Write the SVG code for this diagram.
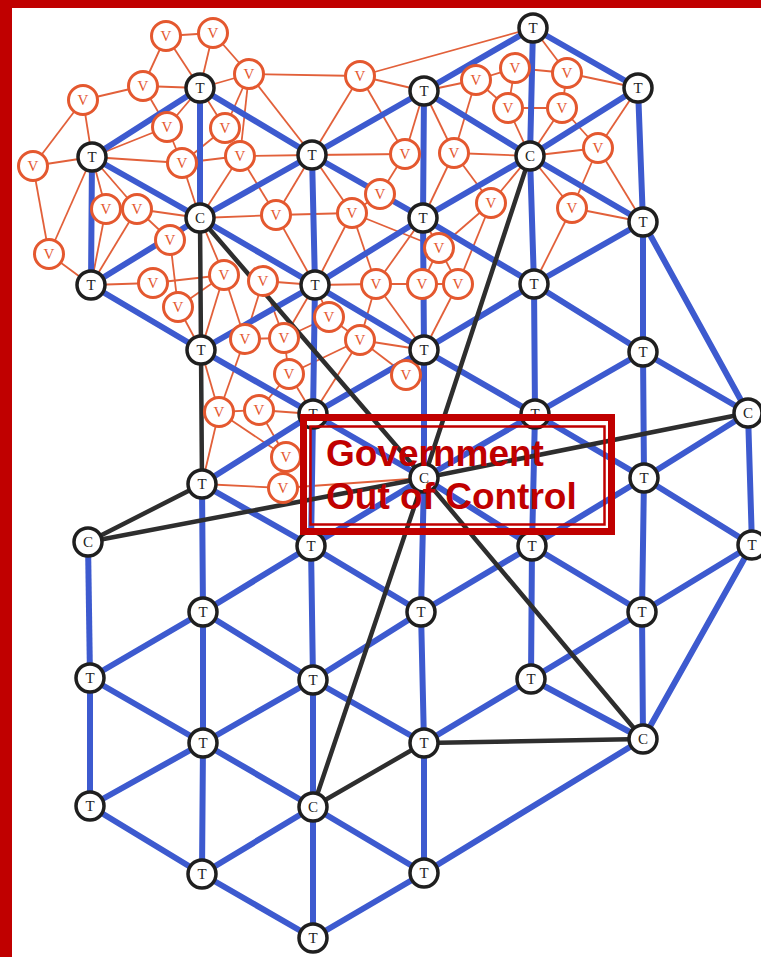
<svg xmlns="http://www.w3.org/2000/svg" width="761" height="957" viewBox="0 0 761 957">
<style>
.o line{stroke:#e2603a;stroke-width:1.8}
.b line{stroke:#3d5acf;stroke-width:6;stroke-linecap:round}
.k line{stroke:#2e2e2e;stroke-width:4.5;stroke-linecap:round}
.t circle{fill:#fff;stroke:#1f1f1f;stroke-width:3.5}
.t text{font-family:"Liberation Serif",serif;font-size:15px;fill:#222;text-anchor:middle}
.v circle{fill:#fff;stroke:#e4582f;stroke-width:3}
.v text{font-family:"Liberation Serif",serif;font-size:15px;fill:#e4582f;text-anchor:middle}
.lbl{font-family:"Liberation Sans",Arial,sans-serif;font-weight:bold;font-size:37px;fill:#c00000}
</style>
<rect x="0" y="0" width="761" height="957" fill="#fff"/>
<g id="connectors">
<g class="o">
<line x1="166" y1="36" x2="213" y2="33"/><line x1="166" y1="36" x2="143" y2="86"/><line x1="166" y1="36" x2="200" y2="88"/><line x1="213" y1="33" x2="200" y2="88"/><line x1="213" y1="33" x2="249" y2="74"/>
<line x1="143" y1="86" x2="83" y2="100"/><line x1="143" y1="86" x2="200" y2="88"/><line x1="143" y1="86" x2="167" y2="127"/><line x1="83" y1="100" x2="92" y2="157"/><line x1="83" y1="100" x2="33" y2="166"/>
<line x1="33" y1="166" x2="92" y2="157"/><line x1="200" y1="88" x2="249" y2="74"/><line x1="200" y1="88" x2="167" y2="127"/><line x1="200" y1="88" x2="225" y2="128"/><line x1="249" y1="74" x2="225" y2="128"/>
<line x1="249" y1="74" x2="240" y2="156"/><line x1="249" y1="74" x2="312" y2="155"/><line x1="92" y1="157" x2="167" y2="127"/><line x1="92" y1="157" x2="182" y2="163"/><line x1="167" y1="127" x2="182" y2="163"/>
<line x1="225" y1="128" x2="182" y2="163"/><line x1="182" y1="163" x2="240" y2="156"/><line x1="182" y1="163" x2="200" y2="218"/><line x1="240" y1="156" x2="200" y2="218"/><line x1="240" y1="156" x2="312" y2="155"/>
<line x1="240" y1="156" x2="276" y2="215"/><line x1="249" y1="74" x2="360" y2="76"/><line x1="360" y1="76" x2="533" y2="28"/><line x1="360" y1="76" x2="424" y2="91"/><line x1="360" y1="76" x2="312" y2="155"/>
<line x1="360" y1="76" x2="405" y2="154"/><line x1="312" y1="155" x2="405" y2="154"/><line x1="312" y1="155" x2="380" y2="194"/><line x1="312" y1="155" x2="276" y2="215"/><line x1="312" y1="155" x2="352" y2="213"/>
<line x1="424" y1="91" x2="476" y2="80"/><line x1="424" y1="91" x2="405" y2="154"/><line x1="424" y1="91" x2="454" y2="153"/><line x1="476" y1="80" x2="454" y2="153"/><line x1="405" y1="154" x2="380" y2="194"/>
<line x1="454" y1="153" x2="530" y2="156"/><line x1="454" y1="153" x2="423" y2="218"/><line x1="454" y1="153" x2="491" y2="203"/><line x1="533" y1="28" x2="567" y2="73"/><line x1="515" y1="68" x2="567" y2="73"/>
<line x1="476" y1="80" x2="515" y2="68"/><line x1="515" y1="68" x2="508" y2="108"/><line x1="567" y1="73" x2="638" y2="88"/><line x1="567" y1="73" x2="562" y2="108"/><line x1="508" y1="108" x2="562" y2="108"/>
<line x1="476" y1="80" x2="508" y2="108"/><line x1="508" y1="108" x2="530" y2="156"/><line x1="562" y1="108" x2="530" y2="156"/><line x1="562" y1="108" x2="598" y2="148"/><line x1="638" y1="88" x2="598" y2="148"/>
<line x1="530" y1="156" x2="598" y2="148"/><line x1="530" y1="156" x2="491" y2="203"/><line x1="530" y1="156" x2="572" y2="208"/><line x1="598" y1="148" x2="572" y2="208"/><line x1="598" y1="148" x2="643" y2="222"/>
<line x1="572" y1="208" x2="643" y2="222"/><line x1="572" y1="208" x2="534" y2="284"/><line x1="491" y1="203" x2="458" y2="284"/><line x1="491" y1="203" x2="439" y2="248"/><line x1="49" y1="254" x2="91" y2="285"/>
<line x1="49" y1="254" x2="33" y2="166"/><line x1="49" y1="254" x2="92" y2="157"/><line x1="106" y1="209" x2="91" y2="285"/><line x1="137" y1="209" x2="91" y2="285"/><line x1="106" y1="209" x2="92" y2="157"/>
<line x1="137" y1="209" x2="92" y2="157"/><line x1="137" y1="209" x2="200" y2="218"/><line x1="170" y1="240" x2="200" y2="218"/><line x1="170" y1="240" x2="178" y2="307"/><line x1="137" y1="209" x2="170" y2="240"/>
<line x1="91" y1="285" x2="153" y2="283"/><line x1="153" y1="283" x2="224" y2="275"/><line x1="178" y1="307" x2="224" y2="275"/><line x1="224" y1="275" x2="200" y2="218"/><line x1="224" y1="275" x2="201" y2="350"/>
<line x1="224" y1="275" x2="245" y2="339"/><line x1="178" y1="307" x2="201" y2="350"/><line x1="200" y1="218" x2="276" y2="215"/><line x1="276" y1="215" x2="352" y2="213"/><line x1="276" y1="215" x2="315" y2="285"/>
<line x1="352" y1="213" x2="380" y2="194"/><line x1="352" y1="213" x2="315" y2="285"/><line x1="352" y1="213" x2="376" y2="284"/><line x1="352" y1="213" x2="439" y2="248"/><line x1="423" y1="218" x2="439" y2="248"/>
<line x1="423" y1="218" x2="376" y2="284"/><line x1="315" y1="285" x2="376" y2="284"/><line x1="315" y1="285" x2="263" y2="281"/><line x1="376" y1="284" x2="422" y2="284"/><line x1="422" y1="284" x2="458" y2="284"/>
<line x1="439" y1="248" x2="422" y2="284"/><line x1="439" y1="248" x2="458" y2="284"/><line x1="376" y1="284" x2="360" y2="340"/><line x1="376" y1="284" x2="424" y2="350"/><line x1="458" y1="284" x2="424" y2="350"/>
<line x1="315" y1="285" x2="329" y2="317"/><line x1="329" y1="317" x2="360" y2="340"/><line x1="360" y1="340" x2="424" y2="350"/><line x1="360" y1="340" x2="289" y2="374"/><line x1="263" y1="281" x2="245" y2="339"/>
<line x1="284" y1="338" x2="263" y2="281"/><line x1="284" y1="338" x2="289" y2="374"/><line x1="245" y1="339" x2="284" y2="338"/><line x1="329" y1="317" x2="284" y2="338"/><line x1="315" y1="285" x2="284" y2="338"/>
<line x1="406" y1="375" x2="424" y2="350"/><line x1="406" y1="375" x2="360" y2="340"/><line x1="219" y1="412" x2="259" y2="410"/><line x1="219" y1="412" x2="201" y2="350"/><line x1="219" y1="412" x2="245" y2="339"/>
<line x1="219" y1="412" x2="202" y2="484"/><line x1="219" y1="412" x2="286" y2="457"/><line x1="202" y1="484" x2="283" y2="488"/><line x1="289" y1="374" x2="313" y2="414"/><line x1="289" y1="374" x2="259" y2="410"/>
<line x1="259" y1="410" x2="313" y2="414"/><line x1="259" y1="410" x2="286" y2="457"/><line x1="286" y1="457" x2="283" y2="488"/><line x1="283" y1="488" x2="424" y2="478"/><line x1="313" y1="414" x2="360" y2="340"/>
</g>
<g class="b">
<line x1="92" y1="157" x2="91" y2="285"/><line x1="200" y1="88" x2="200" y2="218"/><line x1="312" y1="155" x2="315" y2="285"/><line x1="315" y1="285" x2="313" y2="414"/><line x1="313" y1="414" x2="311" y2="546"/>
<line x1="311" y1="546" x2="313" y2="680"/><line x1="313" y1="680" x2="313" y2="807"/><line x1="313" y1="807" x2="313" y2="938"/><line x1="202" y1="484" x2="203" y2="612"/><line x1="203" y1="612" x2="203" y2="743"/>
<line x1="203" y1="743" x2="202" y2="874"/><line x1="424" y1="91" x2="423" y2="218"/><line x1="423" y1="218" x2="424" y2="350"/><line x1="424" y1="350" x2="424" y2="478"/><line x1="424" y1="478" x2="421" y2="612"/>
<line x1="421" y1="612" x2="424" y2="743"/><line x1="424" y1="743" x2="424" y2="873"/><line x1="533" y1="28" x2="530" y2="156"/><line x1="530" y1="156" x2="534" y2="284"/><line x1="534" y1="284" x2="535" y2="414"/>
<line x1="535" y1="414" x2="532" y2="546"/><line x1="532" y1="546" x2="531" y2="679"/><line x1="638" y1="88" x2="643" y2="222"/><line x1="643" y1="222" x2="643" y2="352"/><line x1="643" y1="352" x2="644" y2="478"/>
<line x1="644" y1="478" x2="642" y2="612"/><line x1="642" y1="612" x2="643" y2="739"/><line x1="748" y1="413" x2="752" y2="545"/><line x1="88" y1="542" x2="90" y2="678"/><line x1="90" y1="678" x2="90" y2="806"/>
<line x1="92" y1="157" x2="200" y2="88"/><line x1="92" y1="157" x2="200" y2="218"/><line x1="91" y1="285" x2="200" y2="218"/><line x1="91" y1="285" x2="201" y2="350"/><line x1="90" y1="678" x2="203" y2="612"/>
<line x1="90" y1="678" x2="203" y2="743"/><line x1="90" y1="806" x2="203" y2="743"/><line x1="90" y1="806" x2="202" y2="874"/><line x1="200" y1="88" x2="312" y2="155"/><line x1="200" y1="218" x2="312" y2="155"/>
<line x1="200" y1="218" x2="315" y2="285"/><line x1="201" y1="350" x2="315" y2="285"/><line x1="201" y1="350" x2="313" y2="414"/><line x1="202" y1="484" x2="313" y2="414"/><line x1="202" y1="484" x2="311" y2="546"/>
<line x1="203" y1="612" x2="311" y2="546"/><line x1="203" y1="612" x2="313" y2="680"/><line x1="203" y1="743" x2="313" y2="680"/><line x1="203" y1="743" x2="313" y2="807"/><line x1="202" y1="874" x2="313" y2="807"/>
<line x1="202" y1="874" x2="313" y2="938"/><line x1="312" y1="155" x2="424" y2="91"/><line x1="312" y1="155" x2="423" y2="218"/><line x1="315" y1="285" x2="423" y2="218"/><line x1="315" y1="285" x2="424" y2="350"/>
<line x1="313" y1="414" x2="424" y2="350"/><line x1="313" y1="414" x2="424" y2="478"/><line x1="311" y1="546" x2="424" y2="478"/><line x1="311" y1="546" x2="421" y2="612"/><line x1="313" y1="680" x2="421" y2="612"/>
<line x1="313" y1="680" x2="424" y2="743"/><line x1="313" y1="807" x2="424" y2="873"/><line x1="313" y1="938" x2="424" y2="873"/><line x1="424" y1="91" x2="533" y2="28"/><line x1="424" y1="91" x2="530" y2="156"/>
<line x1="423" y1="218" x2="530" y2="156"/><line x1="423" y1="218" x2="534" y2="284"/><line x1="424" y1="350" x2="534" y2="284"/><line x1="424" y1="350" x2="535" y2="414"/><line x1="424" y1="478" x2="535" y2="414"/>
<line x1="424" y1="478" x2="532" y2="546"/><line x1="421" y1="612" x2="532" y2="546"/><line x1="424" y1="743" x2="531" y2="679"/><line x1="424" y1="873" x2="643" y2="739"/><line x1="533" y1="28" x2="638" y2="88"/>
<line x1="530" y1="156" x2="638" y2="88"/><line x1="530" y1="156" x2="643" y2="222"/><line x1="534" y1="284" x2="643" y2="222"/><line x1="534" y1="284" x2="643" y2="352"/><line x1="535" y1="414" x2="643" y2="352"/>
<line x1="535" y1="414" x2="644" y2="478"/><line x1="532" y1="546" x2="644" y2="478"/><line x1="532" y1="546" x2="642" y2="612"/><line x1="531" y1="679" x2="642" y2="612"/><line x1="531" y1="679" x2="643" y2="739"/>
<line x1="643" y1="222" x2="748" y2="413"/><line x1="643" y1="352" x2="748" y2="413"/><line x1="644" y1="478" x2="748" y2="413"/><line x1="644" y1="478" x2="752" y2="545"/><line x1="642" y1="612" x2="752" y2="545"/>
<line x1="643" y1="739" x2="752" y2="545"/>
</g>
<g class="k">
<line x1="200" y1="218" x2="201" y2="350"/><line x1="201" y1="350" x2="202" y2="484"/><line x1="202" y1="484" x2="88" y2="542"/><line x1="88" y1="542" x2="424" y2="478"/><line x1="424" y1="478" x2="748" y2="413"/>
<line x1="200" y1="218" x2="424" y2="478"/><line x1="424" y1="478" x2="643" y2="739"/><line x1="424" y1="478" x2="313" y2="807"/><line x1="424" y1="478" x2="530" y2="156"/><line x1="313" y1="807" x2="424" y2="743"/>
<line x1="424" y1="743" x2="643" y2="739"/>
</g>
</g>
<g id="nodes">
<g id="v1" class="v" transform="translate(166,36)"><circle r="14.5"/><text y="5">V</text></g>
<g id="v2" class="v" transform="translate(213,33)"><circle r="14.5"/><text y="5">V</text></g>
<g id="v3" class="v" transform="translate(143,86)"><circle r="14.5"/><text y="5">V</text></g>
<g id="v4" class="v" transform="translate(83,100)"><circle r="14.5"/><text y="5">V</text></g>
<g id="v5" class="v" transform="translate(249,74)"><circle r="14.5"/><text y="5">V</text></g>
<g id="v6" class="v" transform="translate(360,76)"><circle r="14.5"/><text y="5">V</text></g>
<g id="v7" class="v" transform="translate(476,80)"><circle r="14.5"/><text y="5">V</text></g>
<g id="v8" class="v" transform="translate(515,68)"><circle r="14.5"/><text y="5">V</text></g>
<g id="v9" class="v" transform="translate(567,73)"><circle r="14.5"/><text y="5">V</text></g>
<g id="v10" class="v" transform="translate(167,127)"><circle r="14.5"/><text y="5">V</text></g>
<g id="v11" class="v" transform="translate(225,128)"><circle r="14.5"/><text y="5">V</text></g>
<g id="v12" class="v" transform="translate(508,108)"><circle r="14.5"/><text y="5">V</text></g>
<g id="v13" class="v" transform="translate(562,108)"><circle r="14.5"/><text y="5">V</text></g>
<g id="v14" class="v" transform="translate(33,166)"><circle r="14.5"/><text y="5">V</text></g>
<g id="v15" class="v" transform="translate(182,163)"><circle r="14.5"/><text y="5">V</text></g>
<g id="v16" class="v" transform="translate(240,156)"><circle r="14.5"/><text y="5">V</text></g>
<g id="v17" class="v" transform="translate(405,154)"><circle r="14.5"/><text y="5">V</text></g>
<g id="v18" class="v" transform="translate(454,153)"><circle r="14.5"/><text y="5">V</text></g>
<g id="v19" class="v" transform="translate(598,148)"><circle r="14.5"/><text y="5">V</text></g>
<g id="v20" class="v" transform="translate(106,209)"><circle r="14.5"/><text y="5">V</text></g>
<g id="v21" class="v" transform="translate(137,209)"><circle r="14.5"/><text y="5">V</text></g>
<g id="v22" class="v" transform="translate(276,215)"><circle r="14.5"/><text y="5">V</text></g>
<g id="v23" class="v" transform="translate(352,213)"><circle r="14.5"/><text y="5">V</text></g>
<g id="v24" class="v" transform="translate(380,194)"><circle r="14.5"/><text y="5">V</text></g>
<g id="v25" class="v" transform="translate(491,203)"><circle r="14.5"/><text y="5">V</text></g>
<g id="v26" class="v" transform="translate(572,208)"><circle r="14.5"/><text y="5">V</text></g>
<g id="v27" class="v" transform="translate(170,240)"><circle r="14.5"/><text y="5">V</text></g>
<g id="v28" class="v" transform="translate(49,254)"><circle r="14.5"/><text y="5">V</text></g>
<g id="v29" class="v" transform="translate(153,283)"><circle r="14.5"/><text y="5">V</text></g>
<g id="v30" class="v" transform="translate(224,275)"><circle r="14.5"/><text y="5">V</text></g>
<g id="v31" class="v" transform="translate(263,281)"><circle r="14.5"/><text y="5">V</text></g>
<g id="v32" class="v" transform="translate(178,307)"><circle r="14.5"/><text y="5">V</text></g>
<g id="v33" class="v" transform="translate(439,248)"><circle r="14.5"/><text y="5">V</text></g>
<g id="v34" class="v" transform="translate(376,284)"><circle r="14.5"/><text y="5">V</text></g>
<g id="v35" class="v" transform="translate(422,284)"><circle r="14.5"/><text y="5">V</text></g>
<g id="v36" class="v" transform="translate(458,284)"><circle r="14.5"/><text y="5">V</text></g>
<g id="v37" class="v" transform="translate(329,317)"><circle r="14.5"/><text y="5">V</text></g>
<g id="v38" class="v" transform="translate(245,339)"><circle r="14.5"/><text y="5">V</text></g>
<g id="v39" class="v" transform="translate(284,338)"><circle r="14.5"/><text y="5">V</text></g>
<g id="v40" class="v" transform="translate(360,340)"><circle r="14.5"/><text y="5">V</text></g>
<g id="v41" class="v" transform="translate(406,375)"><circle r="14.5"/><text y="5">V</text></g>
<g id="v42" class="v" transform="translate(289,374)"><circle r="14.5"/><text y="5">V</text></g>
<g id="v43" class="v" transform="translate(219,412)"><circle r="14.5"/><text y="5">V</text></g>
<g id="v44" class="v" transform="translate(259,410)"><circle r="14.5"/><text y="5">V</text></g>
<g id="v45" class="v" transform="translate(286,457)"><circle r="14.5"/><text y="5">V</text></g>
<g id="v46" class="v" transform="translate(283,488)"><circle r="14.5"/><text y="5">V</text></g>
<g id="t1" class="t" transform="translate(533,28)"><circle r="14"/><text y="5">T</text></g>
<g id="t2" class="t" transform="translate(200,88)"><circle r="14"/><text y="5">T</text></g>
<g id="t3" class="t" transform="translate(424,91)"><circle r="14"/><text y="5">T</text></g>
<g id="t4" class="t" transform="translate(638,88)"><circle r="14"/><text y="5">T</text></g>
<g id="t5" class="t" transform="translate(92,157)"><circle r="14"/><text y="5">T</text></g>
<g id="t6" class="t" transform="translate(312,155)"><circle r="14"/><text y="5">T</text></g>
<g id="c7" class="t" transform="translate(530,156)"><circle r="14"/><text y="5">C</text></g>
<g id="c8" class="t" transform="translate(200,218)"><circle r="14"/><text y="5">C</text></g>
<g id="t9" class="t" transform="translate(423,218)"><circle r="14"/><text y="5">T</text></g>
<g id="t10" class="t" transform="translate(643,222)"><circle r="14"/><text y="5">T</text></g>
<g id="t11" class="t" transform="translate(91,285)"><circle r="14"/><text y="5">T</text></g>
<g id="t12" class="t" transform="translate(315,285)"><circle r="14"/><text y="5">T</text></g>
<g id="t13" class="t" transform="translate(534,284)"><circle r="14"/><text y="5">T</text></g>
<g id="t14" class="t" transform="translate(201,350)"><circle r="14"/><text y="5">T</text></g>
<g id="t15" class="t" transform="translate(424,350)"><circle r="14"/><text y="5">T</text></g>
<g id="t16" class="t" transform="translate(643,352)"><circle r="14"/><text y="5">T</text></g>
<g id="t17" class="t" transform="translate(313,414)"><circle r="14"/><text y="5">T</text></g>
<g id="t18" class="t" transform="translate(535,414)"><circle r="14"/><text y="5">T</text></g>
<g id="c19" class="t" transform="translate(748,413)"><circle r="14"/><text y="5">C</text></g>
<g id="t20" class="t" transform="translate(202,484)"><circle r="14"/><text y="5">T</text></g>
<g id="c21" class="t" transform="translate(424,478)"><circle r="14"/><text y="5">C</text></g>
<g id="t22" class="t" transform="translate(644,478)"><circle r="14"/><text y="5">T</text></g>
<g id="c23" class="t" transform="translate(88,542)"><circle r="14"/><text y="5">C</text></g>
<g id="t24" class="t" transform="translate(311,546)"><circle r="14"/><text y="5">T</text></g>
<g id="t25" class="t" transform="translate(532,546)"><circle r="14"/><text y="5">T</text></g>
<g id="t26" class="t" transform="translate(752,545)"><circle r="14"/><text y="5">T</text></g>
<g id="t27" class="t" transform="translate(203,612)"><circle r="14"/><text y="5">T</text></g>
<g id="t28" class="t" transform="translate(421,612)"><circle r="14"/><text y="5">T</text></g>
<g id="t29" class="t" transform="translate(642,612)"><circle r="14"/><text y="5">T</text></g>
<g id="t30" class="t" transform="translate(90,678)"><circle r="14"/><text y="5">T</text></g>
<g id="t31" class="t" transform="translate(313,680)"><circle r="14"/><text y="5">T</text></g>
<g id="t32" class="t" transform="translate(531,679)"><circle r="14"/><text y="5">T</text></g>
<g id="t33" class="t" transform="translate(203,743)"><circle r="14"/><text y="5">T</text></g>
<g id="t34" class="t" transform="translate(424,743)"><circle r="14"/><text y="5">T</text></g>
<g id="c35" class="t" transform="translate(643,739)"><circle r="14"/><text y="5">C</text></g>
<g id="t36" class="t" transform="translate(90,806)"><circle r="14"/><text y="5">T</text></g>
<g id="c37" class="t" transform="translate(313,807)"><circle r="14"/><text y="5">C</text></g>
<g id="t38" class="t" transform="translate(202,874)"><circle r="14"/><text y="5">T</text></g>
<g id="t39" class="t" transform="translate(424,873)"><circle r="14"/><text y="5">T</text></g>
<g id="t40" class="t" transform="translate(313,938)"><circle r="14"/><text y="5">T</text></g>
</g>
<g id="label">
<rect x="303.5" y="417.5" width="308" height="114" fill="none" stroke="#c00000" stroke-width="7"/>
<rect x="310.5" y="426.5" width="294" height="98" fill="none" stroke="#c00000" stroke-width="2.5"/>
<text class="lbl" x="326" y="466">Government</text>
<text class="lbl" x="326" y="509">Out of Control</text>
</g>
<g id="frame">
<rect x="0" y="0" width="12" height="957" fill="#c00000"/>
<rect x="0" y="0" width="761" height="8" fill="#c00000"/>
</g>
</svg>
